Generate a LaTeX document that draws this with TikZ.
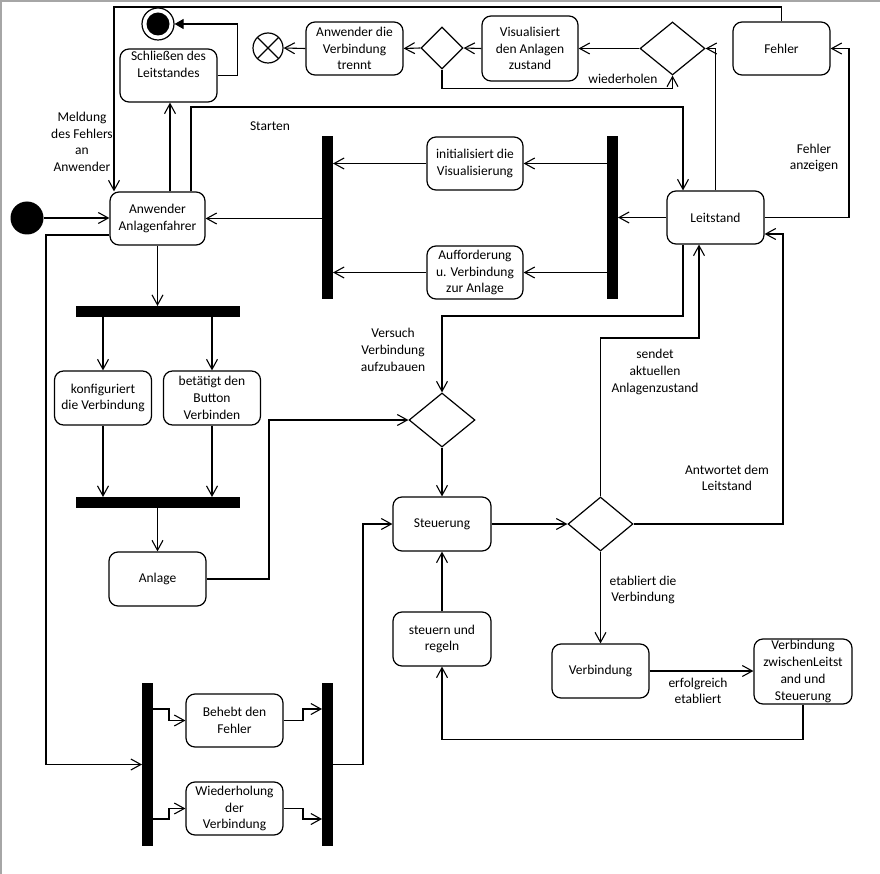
\documentclass[tikz,border=0pt]{standalone}
\usepackage{fontspec}
\setmainfont{Carlito}
\usetikzlibrary{arrows.meta,shapes.geometric}
\newcommand\fs{\fontsize{13.5}{16.7}\selectfont}
\tikzset{
  act/.style={draw, rounded corners=9pt, align=center, inner sep=1pt, line width=1.2pt, font=\fs, minimum width=97pt, minimum height=53pt},
  dec/.style={draw, diamond, inner sep=0pt, line width=1.2pt},
  bar/.style={fill=black, draw=none, inner sep=0pt, outer sep=0pt},
  flow/.style={line width=1.1pt, -{Straight Barb[length=10pt,width=11pt,line width=1.1pt]}},
  flowfill/.style={line width=1.1pt, -{Triangle[length=9pt,width=10pt]}},
  lbl/.style={align=center, font=\fs, inner sep=0pt},
}
\begin{document}
\begin{tikzpicture}[x=1pt,y=-1pt]
\useasboundingbox (0,0) rectangle (880,874);
\draw[gray!70, line width=1.5pt] (1,874) -- (1,1) -- (880,1);

% nodes
\node[circle, fill=black, minimum size=33pt, inner sep=0pt] (start) at (27,218) {};
\node[act, minimum width=95pt] (anw) at (157.5,218.5) {Anwender\\Anlagenfahrer};
\node[act] (schl) at (168.5,75.5) {Schließen des\\Leitstandes\\[6pt]};
\node[circle, draw, line width=1.2pt, minimum size=32pt, inner sep=0pt,
      path picture={\fill (path picture bounding box.center) circle (11.5pt);}] (final) at (158,24) {};
\node[circle, draw, line width=1.2pt, minimum size=30pt, inner sep=0pt,
      path picture={\draw[line width=1.2pt] (path picture bounding box.north west) -- (path picture bounding box.south east)
                    (path picture bounding box.north east) -- (path picture bounding box.south west);}] (ff) at (268,48) {};
\node[act] (trennt) at (354.5,48.5) {Anwender die\\Verbindung\\trennt};
\node[dec, minimum width=42pt, minimum height=42pt] (dL) at (442,48) {};
\node[act, minimum width=96pt, minimum height=65pt] (vis) at (530,48.5) {Visualisiert\\den Anlagen\\zustand};
\node[dec, minimum width=65pt, minimum height=53pt] (dR) at (672.5,48.5) {};
\node[act] (fehler) at (781.5,48.5) {Fehler};
\node[act] (leit) at (715.5,217.5) {Leitstand};
\node[bar, minimum width=11pt, minimum height=163pt] (bar1) at (327.5,217.5) {};
\node[bar, minimum width=11pt, minimum height=163pt] (bar2) at (612.5,217.5) {};
\node[act, minimum width=96pt] (init) at (475,163.5) {initialisiert die\\Visualisierung};
\node[act, minimum width=96pt] (auff) at (475,272.5) {Aufforderung\\u. Verbindung\\zur Anlage};
\node[bar, minimum width=164pt, minimum height=11pt] (barA) at (158,311.5) {};
\node[act, minimum height=54pt] (konf) at (103,398) {konfiguriert\\die Verbindung};
\node[act, minimum height=54pt] (bet) at (212,398) {betätigt den\\Button\\Verbinden};
\node[bar, minimum width=164pt, minimum height=11pt] (barB) at (158,502.5) {};
\node[act, minimum height=54pt] (anl) at (157.5,579) {Anlage};
\node[dec, minimum width=66pt, minimum height=54pt] (d1) at (442,420) {};
\node[act, minimum width=98pt, minimum height=54pt] (steu) at (442,524) {Steuerung};
\node[dec, minimum width=65pt, minimum height=54pt] (d2) at (600.5,524) {};
\node[act, minimum height=54pt] (verb) at (600.5,671) {Verbindung};
\node[act, minimum width=98pt, minimum height=65pt] (vzls) at (803,671.5) {Verbindung\\zwischenLeitst\\and und\\Steuerung};
\node[act, minimum width=98pt, minimum height=54pt] (sur) at (442,639) {steuern und\\regeln};
\node[bar, minimum width=11pt, minimum height=163pt] (barC) at (147.5,764.5) {};
\node[bar, minimum width=11pt, minimum height=163pt] (barD) at (327.5,764.5) {};
\node[act] (beh) at (234.5,720.5) {Behebt den\\Fehler};
\node[act] (wied) at (234.5,808.5) {Wiederholung\\der\\Verbindung};

% labels
\node[lbl] (lStart) at (270,126) {Starten};
\node[lbl] (lMeld) at (82,142) {Meldung\\des Fehlers\\an\\Anwender};
\node[lbl] (lFehl) at (814,158) {Fehler\\anzeigen};
\node[lbl] (lWied) at (623,79) {wiederholen};
\node[lbl] (lVers) at (393,350) {Versuch\\Verbindung\\aufzubauen};
\node[lbl] (lSend) at (655,372) {sendet\\aktuellen\\Anlagenzustand};
\node[lbl] (lAntw) at (727,478) {Antwortet dem\\Leitstand};
\node[lbl] (lEtab) at (643,590) {etabliert die\\Verbindung};
\node[lbl] (lErf) at (698,691) {erfolgreich\\etabliert};

% connectors
\draw[flow] (start.east) -- (start.east -| anw.west);
\draw[flow] (170,0 |- anw.north) -- (170,0 |- schl.south);
\draw[flowfill] (schl.east) -- ++(20,0) |- (final.east);
\draw[flow] (191,0 |- anw.north) -- (191,107) -| (683,0 |- leit.north);
\draw[flow] (fehler.north) |- (114,7) -- (114,0 |- anw.north);
\draw[flow] (leit.east) -- (849,0 |- leit.east) |- (fehler.east);
\draw[flow] (leit.north) |- (dR.east);
\draw[flow] (dR.west) -- (vis.east);
\draw[flow] (vis.west) -- (dL.east);
\draw[flow] (dL.west) -- (trennt.east);
\draw[flow] (trennt.west) -- (ff.east);
\draw[flow] (dL.south) -- ++(0,19) -| (dR.south);
\draw[flow] (leit.west) -- (bar2.east |- leit.west);
\draw[flow] (bar2.west |- init.east) -- (init.east);
\draw[flow] (init.west) -- (bar1.east |- init.west);
\draw[flow] (bar2.west |- auff.east) -- (auff.east);
\draw[flow] (auff.west) -- (bar1.east |- auff.west);
\draw[flow] (bar1.west |- anw.east) -- (anw.east);
\draw[flow] (anw.south) -- (anw.south |- barA.north);
\draw[flow] (konf.north |- barA.south) -- (konf.north);
\draw[flow] (bet.north |- barA.south) -- (bet.north);
\draw[flow] (konf.south) -- (konf.south |- barB.north);
\draw[flow] (bet.south) -- (bet.south |- barB.north);
\draw[flow] (anl.north |- barB.south) -- (anl.north);
\draw[flow] (anl.east) -- (269,0 |- anl.east) |- (d1.west);
\draw[flow] (683,0 |- leit.south) -- (683,316) -| (d1.north);
\draw[flow] (d1.south) -- (steu.north);
\draw[flow] (steu.east) -- (d2.west);
\draw[flow] (d2.north) -- (600.5,338) -| (699,0 |- leit.south);
\draw[flow] (d2.east) -| (783,234) -- (leit.east |- 0,234);
\draw[flow] (d2.south) -- (verb.north);
\draw[flow] (verb.east) -- (vzls.west |- verb.east);
\draw[flow] (vzls.south) -- ++(0,35) -| (sur.south);
\draw[flow] (sur.north) -- (steu.south);
\draw[flow] (anw.west |- 0,235) -- (46,235) |- (barC.west);
\draw[flow] (barC.east |- 0,709) -- (169,709) |- (beh.west);
\draw[flow] (barC.east |- 0,819) -- (169,819) |- (wied.west);
\draw[flow] (beh.east) -- (303,0 |- beh.east) |- (barD.west |- 0,709);
\draw[flow] (wied.east) -- (303,0 |- wied.east) |- (barD.west |- 0,819);
\draw[flow] (barD.east) -- (363,0 |- barD.east) |- (steu.west);
\end{tikzpicture}
\end{document}
